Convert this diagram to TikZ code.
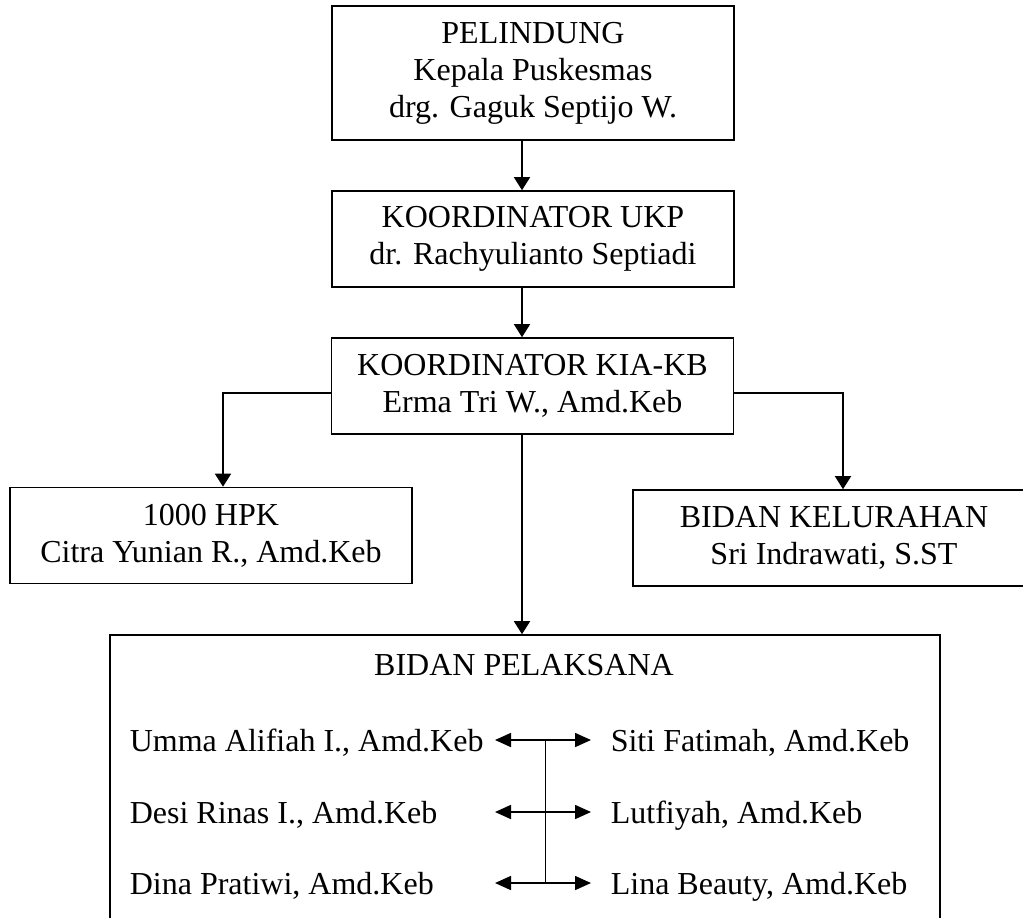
\documentclass[tikz,border=0pt]{standalone}
\usepackage{fontspec}
\setmainfont{Liberation Serif}
\usetikzlibrary{arrows.meta,calc}

\begin{document}
\begin{tikzpicture}[x=0.5pt,y=-0.5pt,thick,
    every node/.style={inner sep=0pt,font=\fontsize{16}{18.5}\selectfont},
    box/.style={draw,align=center,minimum width=201pt,minimum height=48pt},
    >={Triangle[length=6.5pt,width=8pt]}]
    \useasboundingbox(0,0)rectangle(1023,917);
    \node[box,minimum height=67pt](pelindung)at(533,73)
        {PELINDUNG\\Kepala Puskesmas\\drg. Gaguk Septijo W.};
    \node[box](ukp)at(533,239){KOORDINATOR UKP\\dr. Rachyulianto Septiadi};
    \node[box](kia)at(532.5,386){KOORDINATOR KIA-KB\\Erma Tri W., Amd.Keb};
    \node[box](hpk)at(211,535.5){1000 HPK\\Citra Yunian R., Amd.Keb};
    \node[box](kelurahan)at(834,538){BIDAN KELURAHAN\\Sri Indrawati, S.ST};
    \node[draw,minimum width=415pt,minimum height=147.5pt](pelaksana)at(525,782.5){};
    \node[anchor=base](judul)at(524,675){BIDAN PELAKSANA};
    \coordinate(spine)at(522,0);
    \coordinate(fork)at(0,393);
    \coordinate(kiri)at(223,0);
    \coordinate(kanan)at(843,0);
    \draw[->](pelindung.south-|spine)--(ukp.north-|spine);
    \draw[->](ukp.south-|spine)--(kia.north-|spine);
    \draw[->](kia.south-|spine)--(pelaksana.north-|spine);
    \draw[->](kia.west|-fork)-|(kiri|-hpk.north);
    \draw[->](kia.east|-fork)-|(kanan|-kelurahan.north);
    % bidan pelaksana
    \node[anchor=base west](a1)at(129,751){Umma Alifiah I., Amd.Keb};
    \node[anchor=base west](a2)at(129,823){Desi Rinas I., Amd.Keb};
    \node[anchor=base west](a3)at(129,894){Dina Pratiwi, Amd.Keb};
    \node[anchor=base west](b1)at(610,751){Siti Fatimah, Amd.Keb};
    \node[anchor=base west](b2)at(610,823){Lutfiyah, Amd.Keb};
    \node[anchor=base west](b3)at(610,894){Lina Beauty, Amd.Keb};
    \coordinate(s1)at(545,740);\coordinate(s2)at(545,812);\coordinate(s3)at(545,883);
    \coordinate(l1)at(495,740);\coordinate(l2)at(495,812);\coordinate(l3)at(495,883);
    \coordinate(r1)at(591,740);\coordinate(r2)at(591,812);\coordinate(r3)at(591,883);
    \draw[thin](s1)--(s3);
    \begin{scope}[>={Triangle[length=8pt,width=7pt]}]
    \draw[<->](l1)--(r1);
    \draw[<->](l2)--(r2);
    \draw[<->](l3)--(r3);
    \end{scope}
  \end{tikzpicture}
\end{document}
